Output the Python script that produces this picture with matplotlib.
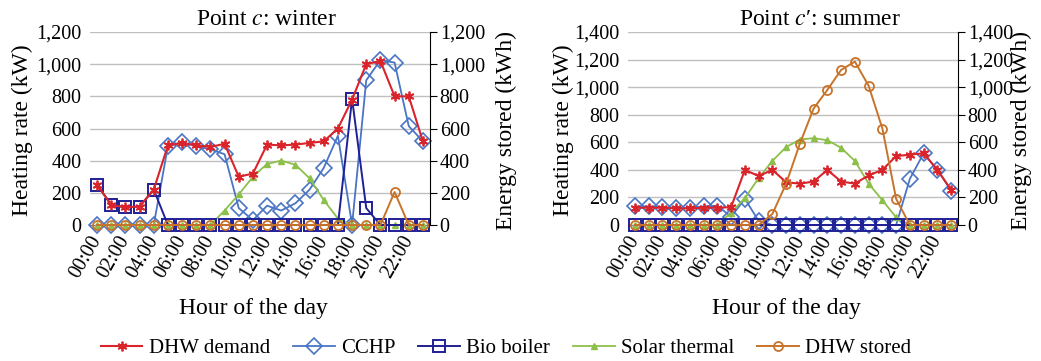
import numpy as np
import matplotlib
matplotlib.use("Agg")
import matplotlib.pyplot as plt
from matplotlib.ticker import FuncFormatter, MultipleLocator

plt.rcParams['font.family'] = ['Liberation Serif', 'DejaVu Serif']
plt.rcParams['mathtext.fontset'] = 'stix'

hours = ["%02d:00" % h for h in range(24)]

# winter (point c)
winter_dhw_demand = [250, 125, 110, 115, 220, 495, 510, 495, 485, 505, 300, 320,
                     500, 495, 500, 510, 520, 600, 780, 1000, 1020, 800, 800, 520]
winter_cchp = [0, 0, 0, 0, 0, 490, 515, 490, 470, 440, 105, 30,
               120, 90, 135, 220, 355, 555, 0, 900, 1025, 1010, 615, 520]
winter_bio_boiler = [250, 125, 110, 115, 220, 0, 0, 0, 0, 0, 0, 0,
                     0, 0, 0, 0, 0, 0, 785, 105, 0, 0, 0, 0]
winter_solar = [0, 0, 0, 0, 0, 0, 0, 0, 0, 90, 190, 300,
                380, 400, 375, 290, 155, 40, 0, 0, 0, 0, 0, 0]
winter_stored = [0, 0, 0, 0, 0, 0, 0, 0, 0, 0, 0, 0,
                 0, 0, 0, 0, 0, 0, 0, 0, 0, 205, 0, 0]

# summer (point c')
summer_dhw_demand = [125, 125, 125, 120, 120, 125, 125, 130, 400, 355, 400, 310,
                     300, 315, 400, 315, 300, 360, 400, 500, 510, 520, 400, 255]
summer_cchp = [135, 135, 130, 125, 125, 135, 140, 60, 190, 30, 0, 0,
               0, 0, 0, 0, 0, 0, 0, 0, 335, 520, 400, 250]
summer_bio_boiler = [0, 0, 0, 0, 0, 0, 0, 0, 0, 0, 0, 0,
                     0, 0, 0, 0, 0, 0, 0, 0, 0, 0, 0, 0]
summer_solar = [0, 0, 0, 0, 0, 0, 0, 90, 195, 340, 465, 565,
                620, 630, 615, 560, 465, 300, 180, 55, 0, 0, 0, 0]
summer_stored = [0, 0, 0, 0, 0, 0, 0, 0, 0, 0, 80, 300,
                 590, 845, 980, 1125, 1185, 1010, 700, 190, 0, 0, 0, 0]

RED = '#d9242b'
BLUE = '#4a74c4'
NAVY = '#1f1f96'
GREEN = '#8dc04a'
ORANGE = '#c8732a'

comma = FuncFormatter(lambda v, p: "{:,.0f}".format(v))


def panel(rect, title, title_x, ymax, dhw, cchp, bio, solar, stored):
    ax = fig.add_axes(rect)
    x = np.arange(24)
    ax.plot(x, cchp, color=BLUE, lw=1.3, marker='D', ms=8.5, mfc='none',
            mec=BLUE, mew=1.2, label='CCHP', zorder=3, clip_on=False)
    ax.plot(x, bio, color=NAVY, lw=1.4, marker='s', ms=9, mfc='none',
            mec=NAVY, mew=1.4, label='Bio boiler', zorder=4, clip_on=False)
    ax.plot(x, solar, color=GREEN, lw=1.3, marker='^', ms=4.5,
            label='Solar thermal', zorder=3, clip_on=False)
    ax.plot(x, dhw, color=RED, lw=1.5, marker=(6, 2, 0), ms=7, mew=1.3,
            label='DHW demand', zorder=5, clip_on=False)
    ax.set_xlim(-0.5, 23.5)
    ax.set_ylim(0, ymax)
    ax.yaxis.set_major_locator(MultipleLocator(200))
    ax.yaxis.set_major_formatter(comma)
    ax.grid(axis='y', color='#c0c0c0', lw=1)
    ax.set_axisbelow(True)
    for s in ['left', 'top', 'right']:
        ax.spines[s].set_visible(False)
    ax.spines['bottom'].set_color('#808080')
    ax.set_xticks(x[::2])
    ax.set_xticklabels(hours[::2], rotation=60, ha='right',
                       rotation_mode='anchor', va='center')
    ax.tick_params(axis='x', length=0, pad=9, labelsize=14.5)
    ax.tick_params(axis='y', length=0, pad=6, labelsize=14.5)
    ax.set_ylabel('Heating rate (kW)', fontsize=17)
    ax.set_xlabel('Hour of the day', fontsize=17)
    ax.xaxis.set_label_coords(0.48, -0.38)
    ax.set_title(title, fontsize=17, x=title_x, pad=5)

    ax2 = ax.twinx()
    ax2.plot(x, stored, color=ORANGE, lw=1.4, marker='o', ms=6.5, mfc='none',
             mec=ORANGE, mew=1.3, label='DHW stored', zorder=3, clip_on=False)
    ax2.set_ylim(0, ymax)
    ax2.yaxis.set_major_locator(MultipleLocator(200))
    ax2.yaxis.set_major_formatter(comma)
    for s in ['left', 'top', 'bottom']:
        ax2.spines[s].set_visible(False)
    ax2.spines['right'].set_color('black')
    ax2.tick_params(axis='y', direction='out', length=5, pad=2, labelsize=14.5)
    ax2.set_ylabel('Energy stored (kWh)', fontsize=17, rotation=90)
    return ax, ax2


fig = plt.figure(figsize=(10.41, 3.61), dpi=100)

ax_w, ax_w2 = panel([90 / 1041, 136 / 361, 340 / 1041, 193 / 361],
                    'Point $c$: winter', 0.52, 1200,
                    winter_dhw_demand, winter_cchp, winter_bio_boiler,
                    winter_solar, winter_stored)
ax_w.yaxis.set_label_coords(-0.168, 0.49)
ax_w2.yaxis.set_label_coords(1.194, 0.49)

ax_s, ax_s2 = panel([628 / 1041, 136 / 361, 330 / 1041, 193 / 361],
                    "Point $c$\u2032: summer", 0.58, 1400,
                    summer_dhw_demand, summer_cchp, summer_bio_boiler,
                    summer_solar, summer_stored)
ax_s.yaxis.set_label_coords(-0.164, 0.49)
ax_s2.yaxis.set_label_coords(1.16, 0.49)

h1, l1 = ax_w.get_legend_handles_labels()
h2, l2 = ax_w2.get_legend_handles_labels()
order = [3, 0, 1, 2]
handles = [h1[i] for i in order] + h2
labels = [l1[i] for i in order] + l2
fig.legend(handles, labels, loc='center', bbox_to_anchor=(0.486, 0.035),
           ncol=5, frameon=False, fontsize=15, handlelength=2.0,
           handletextpad=0.3, columnspacing=1.1)

fig.savefig('out.png', dpi=100)
